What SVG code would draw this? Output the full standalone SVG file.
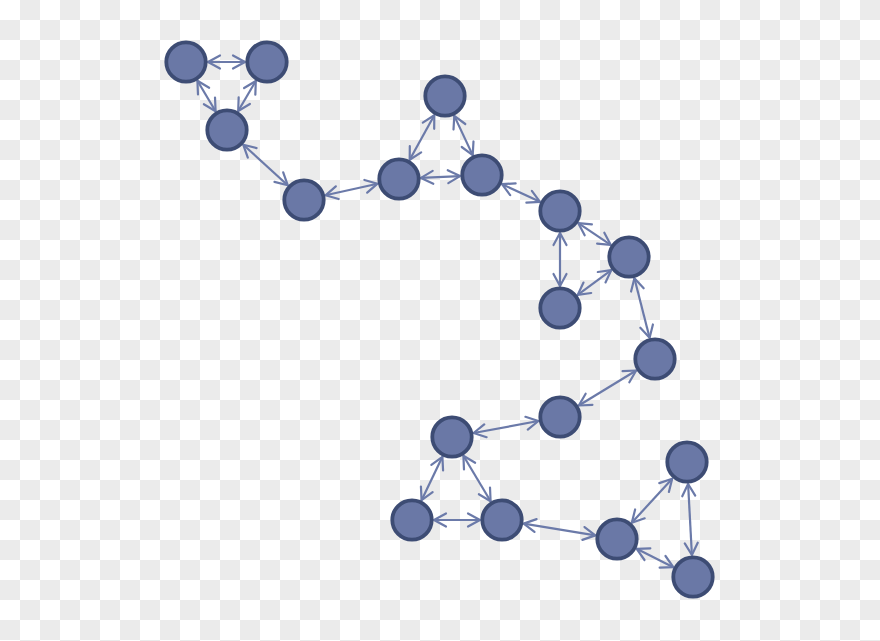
<svg xmlns="http://www.w3.org/2000/svg" width="880" height="641" viewBox="0 0 880 641">
<defs>
<pattern id="checker" x="0" y="0" width="40" height="40" patternUnits="userSpaceOnUse">
<rect x="0" y="0" width="40" height="40" fill="#ffffff"/>
<rect x="20" y="0" width="20" height="20" fill="#ebebeb"/>
<rect x="0" y="20" width="20" height="20" fill="#ebebeb"/>
</pattern>
<marker id="arr" markerWidth="16" markerHeight="16" refX="0" refY="0" viewBox="-14 -8 16 16" orient="auto-start-reverse" markerUnits="userSpaceOnUse">
<path d="M -12 -6.5 L 0 0 L -12 6.5" fill="none" stroke="#6b7aa9" stroke-width="2.2" stroke-linecap="round" stroke-linejoin="round"/>
</marker>
</defs>
<style>
.edge{stroke:#6b7aa9;stroke-width:2.2;fill:none;marker-start:url(#arr);marker-end:url(#arr)}
.node circle{fill:#6a78a6;stroke:#3d4c74;stroke-width:3.8}
</style>
<rect x="0" y="0" width="880" height="641" fill="url(#checker)"/>
<g id="connectors">
<line class="edge" x1="208" y1="62" x2="245" y2="62"/>
<line class="edge" x1="197.4" y1="80.8" x2="215.6" y2="111.2"/>
<line class="edge" x1="255.8" y1="81" x2="238.2" y2="111"/>
<line class="edge" x1="243.3" y1="144.8" x2="287.7" y2="185.2"/>
<line class="edge" x1="325.5" y1="195.3" x2="377.5" y2="183.7"/>
<line class="edge" x1="409.7" y1="159.8" x2="434.3" y2="115.2"/>
<line class="edge" x1="454.3" y1="115.9" x2="472.7" y2="155.1"/>
<line class="edge" x1="421" y1="177.9" x2="460" y2="176.1"/>
<line class="edge" x1="502" y1="184.2" x2="540" y2="201.8"/>
<line class="edge" x1="578.3" y1="223.2" x2="610.7" y2="244.8"/>
<line class="edge" x1="560" y1="233" x2="560" y2="286"/>
<line class="edge" x1="611.3" y1="270.1" x2="577.7" y2="294.9"/>
<line class="edge" x1="634.4" y1="278.3" x2="649.6" y2="337.7"/>
<line class="edge" x1="636.2" y1="370.5" x2="578.8" y2="405.5"/>
<line class="edge" x1="538.4" y1="421" x2="473.6" y2="433"/>
<line class="edge" x1="442.4" y1="456.8" x2="421.6" y2="500.2"/>
<line class="edge" x1="463.4" y1="455.8" x2="490.6" y2="501.2"/>
<line class="edge" x1="434" y1="520" x2="480" y2="520"/>
<line class="edge" x1="523.7" y1="523.6" x2="595.3" y2="535.4"/>
<line class="edge" x1="631.8" y1="522.7" x2="672.2" y2="478.7"/>
<line class="edge" x1="688.1" y1="484" x2="691.9" y2="555"/>
<line class="edge" x1="636.7" y1="548.8" x2="673.3" y2="567.2"/>
</g>
<g id="n1" class="node"><circle cx="186" cy="62" r="19.7"/></g>
<g id="n2" class="node"><circle cx="267" cy="62" r="19.7"/></g>
<g id="n3" class="node"><circle cx="227" cy="130" r="19.7"/></g>
<g id="n4" class="node"><circle cx="304" cy="200" r="19.7"/></g>
<g id="n5" class="node"><circle cx="445" cy="96" r="19.7"/></g>
<g id="n6" class="node"><circle cx="399" cy="179" r="19.7"/></g>
<g id="n7" class="node"><circle cx="482" cy="175" r="19.7"/></g>
<g id="n8" class="node"><circle cx="560" cy="211" r="19.7"/></g>
<g id="n9" class="node"><circle cx="629" cy="257" r="19.7"/></g>
<g id="n10" class="node"><circle cx="560" cy="308" r="19.7"/></g>
<g id="n11" class="node"><circle cx="655" cy="359" r="19.7"/></g>
<g id="n12" class="node"><circle cx="560" cy="417" r="19.7"/></g>
<g id="n13" class="node"><circle cx="452" cy="437" r="19.7"/></g>
<g id="n14" class="node"><circle cx="412" cy="520" r="19.7"/></g>
<g id="n15" class="node"><circle cx="502" cy="520" r="19.7"/></g>
<g id="n16" class="node"><circle cx="617" cy="539" r="19.7"/></g>
<g id="n17" class="node"><circle cx="687" cy="462" r="19.7"/></g>
<g id="n18" class="node"><circle cx="693" cy="577" r="19.7"/></g>
</svg>
